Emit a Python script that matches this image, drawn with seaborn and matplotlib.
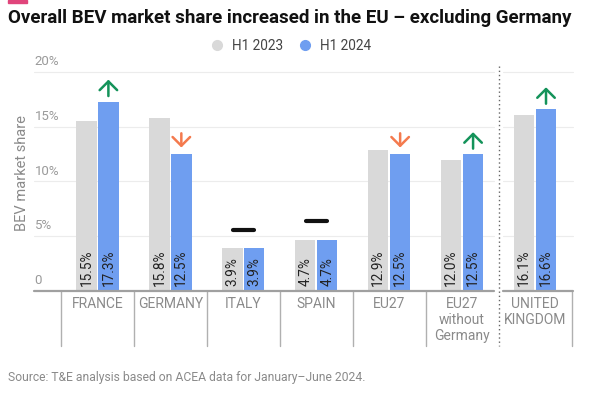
import matplotlib
matplotlib.use("Agg")
import matplotlib.pyplot as plt
import matplotlib.transforms as mtransforms
from matplotlib.lines import Line2D
from matplotlib.patches import Rectangle
import seaborn as sns
import pandas as pd
import numpy as np

# data
countries = ["FRANCE", "GERMANY", "ITALY", "SPAIN", "EU27",
             "EU27\nwithout\nGermany", "UNITED\nKINGDOM"]
share_2023 = [15.5, 15.8, 3.9, 4.7, 12.9, 12.0, 16.1]
share_2024 = [17.3, 12.5, 3.9, 4.7, 12.5, 12.5, 16.6]
periods = ["H1 2023", "H1 2024"]
yticks = [0, 5, 10, 15, 20]
ytick_labels = ["0", "5%", "10%", "15%", "20%"]

colors = ["#d9d9d9", "#6f9ef0"]
up_color = "#14935a"
down_color = "#f47a4e"
grey_text = "#8a8a8a"

df = pd.DataFrame({
    "country": countries * 2,
    "share": share_2023 + share_2024,
    "period": [periods[0]] * len(countries) + [periods[1]] * len(countries),
})

sns.set_style("white")
plt.rcParams["font.family"] = ["Roboto", "DejaVu Sans"]

fig = plt.figure(figsize=(5.96, 3.93), dpi=100)
ax = fig.add_axes([34 / 596, 102 / 393, (573 - 34) / 596, 230 / 393])

sns.barplot(data=df, x="country", y="share", hue="period", palette=colors,
            width=0.6, gap=0.07, saturation=1, linewidth=0, legend=False, ax=ax)

ax.set_ylim(0, 21)
ax.set_xlim(-0.87, 6.52)
split = 5.5  # dotted divider between EU and UK

# gridlines and bottom axis, with a small break at the divider
for t in yticks:
    lw, col = (1.6, "#a0a0a0") if t == 0 else (0.8, "#ececec")
    ax.plot([-0.87, split - 0.06], [t, t], color=col, lw=lw, zorder=0.5 if t else 3, clip_on=False)
    ax.plot([split + 0.06, 6.52], [t, t], color=col, lw=lw, zorder=0.5 if t else 3, clip_on=False)
for t, lab in zip(yticks, ytick_labels):
    ax.text(-0.86, t + 0.35, lab, ha="left", va="bottom", color="#9a9a9a", fontsize=9.5)

for s in ax.spines.values():
    s.set_visible(False)
ax.set_yticks([])
ax.set_xlabel("")
ax.set_ylabel("")
ax.tick_params(axis="x", length=0, pad=4, labelsize=10, labelcolor=grey_text)
for lab in ax.get_xticklabels():
    lab.set_linespacing(1.2)

# category separators below the axis
trans = mtransforms.blended_transform_factory(ax.transData, ax.transAxes)
for i in range(len(countries) + 1):
    xs = i - 0.5
    if xs == split:
        ax.plot([xs, xs], [0.978, -0.24], transform=trans, color="#666666",
                lw=1, ls=(0, (1, 2)), clip_on=False)
    else:
        ax.plot([xs, xs], [0, -0.24], transform=trans, color="#b0b0b0",
                lw=1, clip_on=False)

# value labels inside bars
for cont, vals in zip(ax.containers, [share_2023, share_2024]):
    for bar, v in zip(cont, vals):
        ax.text(bar.get_x() + bar.get_width() / 2, 0.5, f"{v:.1f}%", rotation=90,
                ha="center", va="bottom", fontsize=9.8, color="#222222")

# change markers
for i, (a, b) in enumerate(zip(share_2023, share_2024)):
    bar = ax.containers[1][i]
    xc = bar.get_x() + bar.get_width() / 2
    if b > a:
        ax.annotate("", xy=(xc, b + 2.0), xytext=(xc, b + 0.5),
                    arrowprops=dict(arrowstyle="->,head_length=0.45,head_width=0.45",
                                    color=up_color, lw=1.8, mutation_scale=14,
                                    shrinkA=0, shrinkB=0))
    elif b < a:
        ax.annotate("", xy=(xc, b + 0.6), xytext=(xc, b + 1.9),
                    arrowprops=dict(arrowstyle="->,head_length=0.45,head_width=0.45",
                                    color=down_color, lw=1.8, mutation_scale=14,
                                    shrinkA=0, shrinkB=0))
    else:
        ax.plot([i - 0.145, i + 0.145], [b + 1.7, b + 1.7], color="#111111",
                lw=3, solid_capstyle="round")

# titles, legend, source
fig.patches.append(Rectangle((8 / 596, 1 - 3 / 393), 19 / 596, 3 / 393,
                             color="#e0457b", transform=fig.transFigure))
fig.text(8 / 596, 1 - 18 / 393,
         "Overall BEV market share increased in the EU \u2013 excluding Germany",
         fontsize=13.5, weight="bold", color="#111111", va="center")
fig.text(22 / 596, 1 - 173 / 393, "BEV market share", rotation=90,
         color=grey_text, fontsize=10.5, ha="center", va="center")
handles = [Line2D([], [], marker="o", ls="", color=c, markersize=7) for c in colors]
fig.legend(handles, periods, loc="center", bbox_to_anchor=(287 / 596, 1 - 46 / 393),
           ncol=2, frameon=False, fontsize=9.8, handletextpad=0.1,
           columnspacing=0.6, labelcolor="#444444")
fig.text(8 / 596, 1 - 377 / 393,
         "Source: T&E analysis based on ACEA data for January\u2013June 2024.",
         color=grey_text, fontsize=8.7, va="center")

fig.savefig("out.png", dpi=100)
